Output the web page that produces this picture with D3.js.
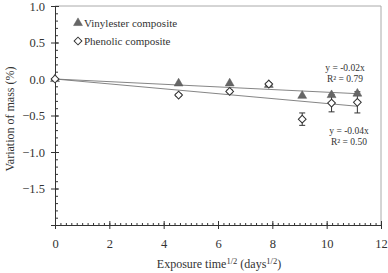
<!DOCTYPE html>
<html><head><meta charset="utf-8">
<script src="https://cdn.jsdelivr.net/npm/d3@7"></script>
<style>body{margin:0;background:#fff}svg{display:block}</style>
</head><body>
<svg id="c" width="388" height="273"></svg>
<script>
const timeX = [0, 4.55, 6.43, 7.87, 9.1, 10.18, 11.13];
const vinylester = [0, -0.06, -0.06, -0.08, -0.23, -0.22, -0.2];
const phenolic = [0, -0.22, -0.17, -0.07, -0.55, -0.33, -0.32];
const phenolicErr = [0, 0.02, 0.02, 0.02, 0.085, 0.12, 0.145];
const seriesNames = ["Vinylester composite", "Phenolic composite"];
const eqLabels = [["y = -0.02x", "R² = 0.79"], ["y = -0.04x", "R² = 0.50"]];
const xTicks = [0, 2, 4, 6, 8, 10, 12];
const yTicks = [-1.5, -1.0, -0.5, 0.0, 0.5, 1.0];

const FONT = "Liberation Serif";
const svg = d3.select("#c");
const m = {l:55, r:7, t:6, b:48};
const W = 388, H = 273;
const x = d3.scaleLinear().domain([0, 12]).range([m.l, W - m.r]);
const y = d3.scaleLinear().domain([-2, 1]).range([H - m.b, m.t]);

svg.append("line").attr("x1", x(0)).attr("x2", x(12)).attr("y1", y(1)).attr("y2", y(1)).attr("stroke", "#aaa");
svg.append("line").attr("x1", x(12)).attr("x2", x(12)).attr("y1", y(1)).attr("y2", y(-2)).attr("stroke", "#aaa");

const gx = svg.append("g").attr("transform", `translate(0,${y(-2)})`);
gx.call(d3.axisBottom(x).tickValues(d3.range(0, 12.01, 0.2)).tickSize(-2).tickFormat(""))
  .call(g => g.select(".domain").remove()).selectAll("line").attr("stroke", "#333");
const gx2 = svg.append("g").attr("transform", `translate(0,${y(-2)})`);
gx2.call(d3.axisBottom(x).tickValues(xTicks).tickSize(4).tickPadding(10).tickFormat(d3.format("d")))
  .call(g => g.select(".domain").attr("stroke", "#333"));
gx2.selectAll(".tick line").attr("stroke", "#333").attr("y1", -4);
gx2.selectAll("text").style("font-family", FONT).style("font-size", "12.5px").attr("fill", "#333");

const gy = svg.append("g").attr("transform", `translate(${x(0)},0)`);
gy.call(d3.axisLeft(y).tickValues(d3.range(-2, 1.001, 0.1)).tickSize(-3).tickFormat(""))
  .call(g => g.select(".domain").remove()).selectAll("line").attr("stroke", "#333");
const gy2 = svg.append("g").attr("transform", `translate(${x(0)},0)`);
gy2.call(d3.axisLeft(y).tickValues(yTicks).tickSize(4).tickPadding(6).tickFormat(d3.format(".1f")))
  .call(g => g.select(".domain").attr("stroke", "#333"));
gy2.selectAll(".tick line").attr("stroke", "#333").attr("x2", 4).attr("x1", -4);
gy2.selectAll("text").style("font-family", FONT).style("font-size", "12.5px").attr("fill", "#333");

function txt(xp, yp, size) {
  return svg.append("text").attr("x", xp).attr("y", yp).style("font-family", FONT).style("font-size", size + "px").attr("fill", "#333");
}
const xt = txt(219, 268, 12).attr("text-anchor", "middle");
xt.append("tspan").text("Exposure time");
xt.append("tspan").attr("dy", -4.5).style("font-size", "8.5px").text("1/2");
xt.append("tspan").attr("dy", 4.5).text(" (days");
xt.append("tspan").attr("dy", -4.5).style("font-size", "8.5px").text("1/2");
xt.append("tspan").attr("dy", 4.5).text(")");
svg.append("text").attr("transform", `translate(14,119) rotate(-90)`).attr("text-anchor", "middle")
  .style("font-family", FONT).style("font-size", "12px").attr("fill", "#333").text("Variation of mass (%)");

function slope(ys) {
  let sxy = 0, sxx = 0;
  timeX.forEach((t, i) => { sxy += t * ys[i]; sxx += t * t; });
  return sxy / sxx;
}
const xmax = d3.max(timeX);
[vinylester, phenolic].forEach(ys => {
  const s = slope(ys);
  svg.append("line").attr("x1", x(0)).attr("y1", y(0)).attr("x2", x(xmax)).attr("y2", y(s * xmax))
    .attr("stroke", "#777").attr("stroke-width", 0.9);
});

timeX.forEach((t, i) => {
  const e = phenolicErr[i];
  if (!e) return;
  const g = svg.append("g").attr("stroke", "#333").attr("stroke-width", 1);
  g.append("line").attr("x1", x(t)).attr("x2", x(t)).attr("y1", y(phenolic[i] - e)).attr("y2", y(phenolic[i] + e));
  [-e, e].forEach(d => g.append("line").attr("x1", x(t) - 3).attr("x2", x(t) + 3).attr("y1", y(phenolic[i] + d)).attr("y2", y(phenolic[i] + d)));
});

const tri = d3.symbol().type(d3.symbolTriangle).size(34);
const dia = d3.symbol().type(d3.symbolSquare).size(30);
function drawTri(g, cx, cy) {
  g.append("path").attr("d", tri()).attr("transform", `translate(${cx},${cy})`).attr("fill", "#666").attr("stroke", "#555").attr("stroke-width", 0.5);
}
function drawDia(g, cx, cy) {
  g.append("path").attr("d", dia()).attr("transform", `translate(${cx},${cy}) rotate(45)`).attr("fill", "#fff").attr("stroke", "#333").attr("stroke-width", 1);
}
timeX.forEach((t, i) => drawTri(svg, x(t), y(vinylester[i])));
timeX.forEach((t, i) => drawDia(svg, x(t), y(phenolic[i])));

drawTri(svg, 78, 23);
txt(84, 27, 11).text(seriesNames[0]);
drawDia(svg, 78, 41);
txt(84, 45, 11).text(seriesNames[1]);

const eqPos = [[345, 71], [349, 134]];
eqLabels.forEach((lab, k) => {
  lab.forEach((s, j) => txt(eqPos[k][0], eqPos[k][1] + j * 10.5, 9.5).attr("text-anchor", "middle").text(s));
});
</script>
</body></html>
